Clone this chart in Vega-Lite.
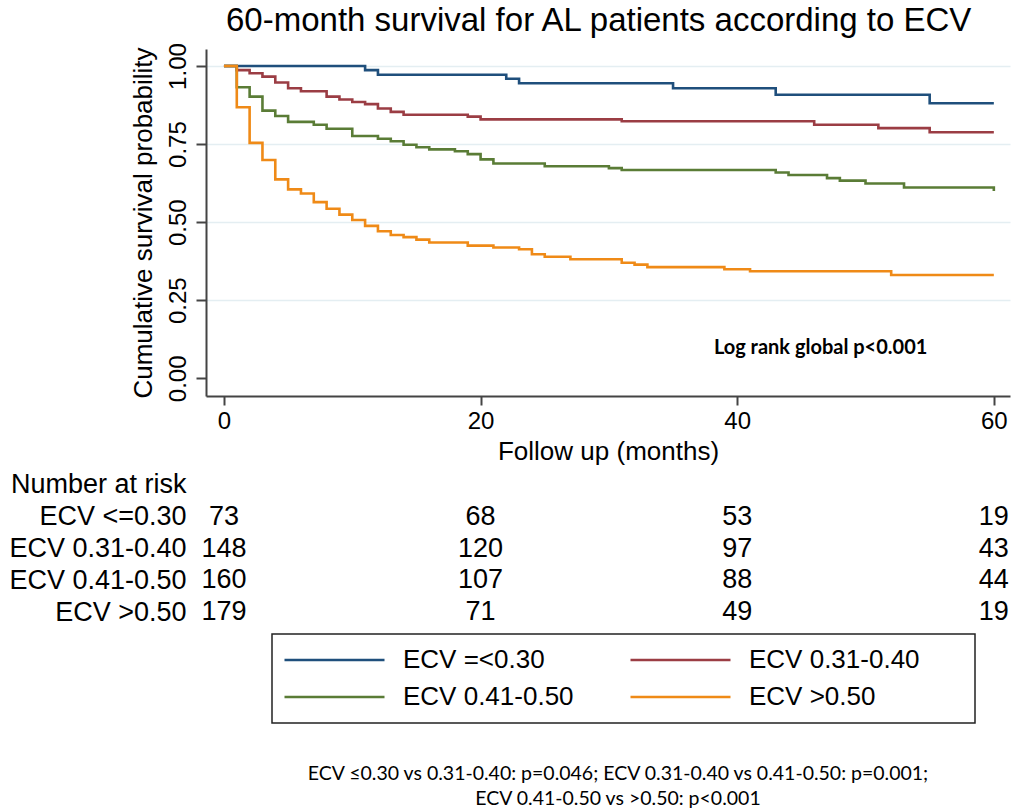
{
  "$schema": "https://vega.github.io/schema/vega-lite/v6.json",
  "padding": {"left": 8, "top": 4, "right": 4, "bottom": 6},
  "background": "white",
  "config": {
    "font": "Liberation Sans",
    "view": {"stroke": null},
    "concat": {"spacing": 5},
    "legend": {"strokeWidth": 1.5}
  },
  "title": {
    "text": "60-month survival for AL patients according to ECV",
    "fontSize": 33,
    "fontWeight": "normal",
    "color": "black",
    "anchor": "start",
    "frame": "group",
    "dx": 20,
    "offset": 5
  },
  "datasets": {
    "km": [
      {"group": "ECV =<0.30", "month": 0, "surv": 1},
      {"group": "ECV =<0.30", "month": 11, "surv": 0.987},
      {"group": "ECV =<0.30", "month": 12, "surv": 0.972},
      {"group": "ECV =<0.30", "month": 22, "surv": 0.959},
      {"group": "ECV =<0.30", "month": 23, "surv": 0.945},
      {"group": "ECV =<0.30", "month": 35, "surv": 0.929},
      {"group": "ECV =<0.30", "month": 43, "surv": 0.908},
      {"group": "ECV =<0.30", "month": 55, "surv": 0.881},
      {"group": "ECV =<0.30", "month": 60, "surv": 0.881},
      {"group": "ECV 0.31-0.40", "month": 0, "surv": 1},
      {"group": "ECV 0.31-0.40", "month": 1, "surv": 0.987},
      {"group": "ECV 0.31-0.40", "month": 2, "surv": 0.977},
      {"group": "ECV 0.31-0.40", "month": 3, "surv": 0.966},
      {"group": "ECV 0.31-0.40", "month": 4, "surv": 0.947},
      {"group": "ECV 0.31-0.40", "month": 5, "surv": 0.929},
      {"group": "ECV 0.31-0.40", "month": 6, "surv": 0.919},
      {"group": "ECV 0.31-0.40", "month": 8, "surv": 0.902},
      {"group": "ECV 0.31-0.40", "month": 9, "surv": 0.893},
      {"group": "ECV 0.31-0.40", "month": 10, "surv": 0.885},
      {"group": "ECV 0.31-0.40", "month": 11, "surv": 0.878},
      {"group": "ECV 0.31-0.40", "month": 12, "surv": 0.864},
      {"group": "ECV 0.31-0.40", "month": 13, "surv": 0.853},
      {"group": "ECV 0.31-0.40", "month": 14, "surv": 0.844},
      {"group": "ECV 0.31-0.40", "month": 19, "surv": 0.838},
      {"group": "ECV 0.31-0.40", "month": 20, "surv": 0.829},
      {"group": "ECV 0.31-0.40", "month": 31, "surv": 0.823},
      {"group": "ECV 0.31-0.40", "month": 46, "surv": 0.812},
      {"group": "ECV 0.31-0.40", "month": 51, "surv": 0.801},
      {"group": "ECV 0.31-0.40", "month": 55, "surv": 0.788},
      {"group": "ECV 0.31-0.40", "month": 60, "surv": 0.788},
      {"group": "ECV 0.41-0.50", "month": 0, "surv": 1},
      {"group": "ECV 0.41-0.50", "month": 1, "surv": 0.932},
      {"group": "ECV 0.41-0.50", "month": 2, "surv": 0.902},
      {"group": "ECV 0.41-0.50", "month": 3, "surv": 0.857},
      {"group": "ECV 0.41-0.50", "month": 4, "surv": 0.84},
      {"group": "ECV 0.41-0.50", "month": 5, "surv": 0.821},
      {"group": "ECV 0.41-0.50", "month": 7, "surv": 0.812},
      {"group": "ECV 0.41-0.50", "month": 8, "surv": 0.799},
      {"group": "ECV 0.41-0.50", "month": 10, "surv": 0.776},
      {"group": "ECV 0.41-0.50", "month": 12, "surv": 0.767},
      {"group": "ECV 0.41-0.50", "month": 13, "surv": 0.759},
      {"group": "ECV 0.41-0.50", "month": 14, "surv": 0.748},
      {"group": "ECV 0.41-0.50", "month": 15, "surv": 0.74},
      {"group": "ECV 0.41-0.50", "month": 16, "surv": 0.733},
      {"group": "ECV 0.41-0.50", "month": 18, "surv": 0.727},
      {"group": "ECV 0.41-0.50", "month": 19, "surv": 0.718},
      {"group": "ECV 0.41-0.50", "month": 20, "surv": 0.701},
      {"group": "ECV 0.41-0.50", "month": 21, "surv": 0.688},
      {"group": "ECV 0.41-0.50", "month": 25, "surv": 0.679},
      {"group": "ECV 0.41-0.50", "month": 30, "surv": 0.673},
      {"group": "ECV 0.41-0.50", "month": 31, "surv": 0.667},
      {"group": "ECV 0.41-0.50", "month": 43, "surv": 0.659},
      {"group": "ECV 0.41-0.50", "month": 44, "surv": 0.651},
      {"group": "ECV 0.41-0.50", "month": 47, "surv": 0.641},
      {"group": "ECV 0.41-0.50", "month": 48, "surv": 0.633},
      {"group": "ECV 0.41-0.50", "month": 50, "surv": 0.624},
      {"group": "ECV 0.41-0.50", "month": 53, "surv": 0.611},
      {"group": "ECV 0.41-0.50", "month": 60, "surv": 0.6},
      {"group": "ECV >0.50", "month": 0, "surv": 1},
      {"group": "ECV >0.50", "month": 1, "surv": 0.868},
      {"group": "ECV >0.50", "month": 2, "surv": 0.754},
      {"group": "ECV >0.50", "month": 3, "surv": 0.699},
      {"group": "ECV >0.50", "month": 4, "surv": 0.637},
      {"group": "ECV >0.50", "month": 5, "surv": 0.605},
      {"group": "ECV >0.50", "month": 6, "surv": 0.592},
      {"group": "ECV >0.50", "month": 7, "surv": 0.564},
      {"group": "ECV >0.50", "month": 8, "surv": 0.543},
      {"group": "ECV >0.50", "month": 9, "surv": 0.524},
      {"group": "ECV >0.50", "month": 10, "surv": 0.507},
      {"group": "ECV >0.50", "month": 11, "surv": 0.488},
      {"group": "ECV >0.50", "month": 12, "surv": 0.471},
      {"group": "ECV >0.50", "month": 13, "surv": 0.459},
      {"group": "ECV >0.50", "month": 14, "surv": 0.452},
      {"group": "ECV >0.50", "month": 15, "surv": 0.444},
      {"group": "ECV >0.50", "month": 16, "surv": 0.435},
      {"group": "ECV >0.50", "month": 19, "surv": 0.425},
      {"group": "ECV >0.50", "month": 21, "surv": 0.419},
      {"group": "ECV >0.50", "month": 23, "surv": 0.413},
      {"group": "ECV >0.50", "month": 24, "surv": 0.397},
      {"group": "ECV >0.50", "month": 25, "surv": 0.389},
      {"group": "ECV >0.50", "month": 27, "surv": 0.381},
      {"group": "ECV >0.50", "month": 31, "surv": 0.37},
      {"group": "ECV >0.50", "month": 32, "surv": 0.364},
      {"group": "ECV >0.50", "month": 33, "surv": 0.356},
      {"group": "ECV >0.50", "month": 39, "surv": 0.349},
      {"group": "ECV >0.50", "month": 41, "surv": 0.343},
      {"group": "ECV >0.50", "month": 52, "surv": 0.331},
      {"group": "ECV >0.50", "month": 60, "surv": 0.331}
    ],
    "note": [
      {"month": 46.5, "surv": 0.096, "label": "Log rank global p<0.001"}
    ],
    "risk": [
      {"row": "ECV <=0.30", "month": 0, "n": 73},
      {"row": "ECV <=0.30", "month": 20, "n": 68},
      {"row": "ECV <=0.30", "month": 40, "n": 53},
      {"row": "ECV <=0.30", "month": 60, "n": 19},
      {"row": "ECV 0.31-0.40", "month": 0, "n": 148},
      {"row": "ECV 0.31-0.40", "month": 20, "n": 120},
      {"row": "ECV 0.31-0.40", "month": 40, "n": 97},
      {"row": "ECV 0.31-0.40", "month": 60, "n": 43},
      {"row": "ECV 0.41-0.50", "month": 0, "n": 160},
      {"row": "ECV 0.41-0.50", "month": 20, "n": 107},
      {"row": "ECV 0.41-0.50", "month": 40, "n": 88},
      {"row": "ECV 0.41-0.50", "month": 60, "n": 44},
      {"row": "ECV >0.50", "month": 0, "n": 179},
      {"row": "ECV >0.50", "month": 20, "n": 71},
      {"row": "ECV >0.50", "month": 40, "n": 49},
      {"row": "ECV >0.50", "month": 60, "n": 19}
    ]
  },
  "vconcat": [
    {
      "width": 804,
      "height": 347,
      "layer": [
        {
          "data": {"name": "km"},
          "mark": {"type": "line", "interpolate": "step-after", "strokeWidth": 2.6},
          "encoding": {
            "x": {
              "field": "month",
              "type": "quantitative",
              "scale": {"domain": [-1.4, 61.26], "nice": false, "zero": false},
              "axis": {
                "values": [0, 20, 40, 60],
                "title": "Follow up (months)",
                "titleFontSize": 26,
                "titleFontWeight": "normal",
                "titleColor": "black",
                "titlePadding": 5,
                "labelFontSize": 24,
                "labelColor": "black",
                "labelPadding": 4,
                "tickSize": 9,
                "tickWidth": 2,
                "tickColor": "#444",
                "domainWidth": 2,
                "domainColor": "#444",
                "grid": false
              }
            },
            "y": {
              "field": "surv",
              "type": "quantitative",
              "scale": {"domain": [-0.0567, 1.0545], "nice": false, "zero": false},
              "axis": {
                "values": [0, 0.25, 0.5, 0.75, 1],
                "format": ".2f",
                "title": "Cumulative survival probability",
                "titleFontSize": 26,
                "titleFontWeight": "normal",
                "titleColor": "black",
                "titlePadding": 10,
                "labelFontSize": 24,
                "labelColor": "black",
                "labelAngle": -90,
                "labelAlign": "center",
                "labelBaseline": "bottom",
                "labelPadding": 6,
                "tickSize": 10,
                "tickWidth": 2,
                "tickColor": "#444",
                "domainWidth": 2,
                "domainColor": "#444",
                "grid": true,
                "gridWidth": 1.5,
                "gridColor": {"condition": {"test": "datum.value === 0", "value": "transparent"}, "value": "#e4eef2"}
              }
            },
            "color": {
              "field": "group",
              "type": "nominal",
              "scale": {
                "domain": ["ECV =<0.30", "ECV 0.31-0.40", "ECV 0.41-0.50", "ECV >0.50"],
                "range": ["#1f4f7c", "#9b3d44", "#5a7c36", "#ef8a17"]
              },
              "legend": {
                "title": " ",
                "titleOrient": "right",
                "titleFontSize": 26,
                "titlePadding": 44,
                "orient": "none",
                "legendX": 66,
                "legendY": 585,
                "direction": "horizontal",
                "columns": 2,
                "symbolType": "M-1,0H1",
                "symbolSize": 10000,
                "symbolStrokeWidth": 2.4,
                "clipHeight": 30,
                "labelFontSize": 26,
                "labelColor": "black",
                "labelOffset": 17,
                "labelLimit": 400,
                "columnPadding": 55,
                "rowPadding": 7,
                "padding": 11,
                "strokeColor": "#222",
                "fillColor": "white"
              }
            }
          }
        },
        {
          "data": {"name": "note"},
          "mark": {"type": "text", "font": "Lato", "fontWeight": "bold", "fontSize": 20, "color": "black", "align": "center", "baseline": "middle"},
          "encoding": {
            "x": {"field": "month", "type": "quantitative"},
            "y": {"field": "surv", "type": "quantitative"},
            "text": {"field": "label"}
          }
        }
      ]
    },
    {
      "width": 804,
      "height": 159,
      "data": {"name": "risk"},
      "title": {
        "text": ["ECV ≤0.30 vs 0.31-0.40: p=0.046; ECV 0.31-0.40 vs 0.41-0.50: p=0.001;", "ECV 0.41-0.50 vs >0.50: p<0.001"],
        "orient": "bottom",
        "anchor": "middle",
        "font": "Lato",
        "fontSize": 19.5,
        "fontWeight": "normal",
        "color": "black",
        "lineHeight": 25,
        "offset": 137,
        "dx": 10
      },
      "mark": {"type": "text", "fontSize": 27, "color": "black", "align": "center", "baseline": "middle"},
      "encoding": {
        "x": {
          "field": "month",
          "type": "quantitative",
          "scale": {"domain": [-1.4, 61.26], "nice": false, "zero": false},
          "axis": null
        },
        "y": {
          "field": "row",
          "type": "nominal",
          "scale": {"domain": ["Number at risk", "ECV <=0.30", "ECV 0.31-0.40", "ECV 0.41-0.50", "ECV >0.50"]},
          "axis": {
            "title": null,
            "domain": false,
            "ticks": false,
            "labelFontSize": 27,
            "labelColor": "black",
            "labelPadding": 20,
            "labelLimit": 400
          }
        },
        "text": {"field": "n"}
      }
    }
  ]
}
